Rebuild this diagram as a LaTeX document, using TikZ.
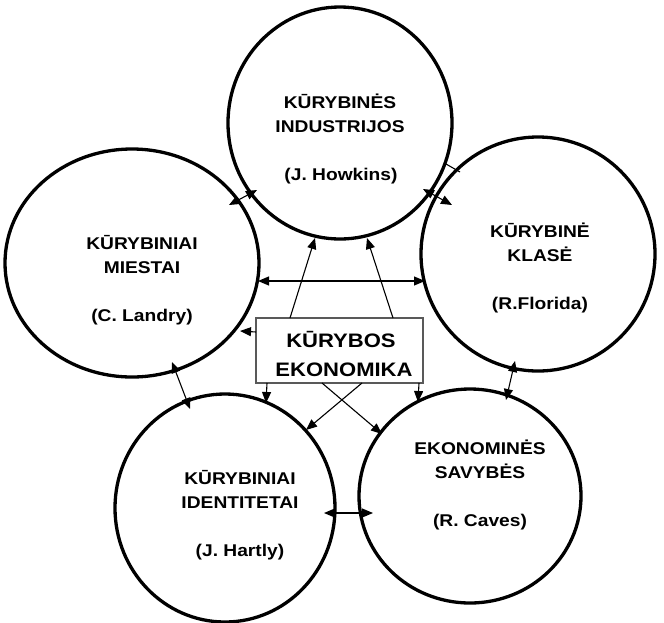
\documentclass[tikz,border=0pt]{standalone}
\usepackage{fontspec}
\setmainfont{Liberation Sans}
\newfontfamily\lbf[FakeStretch=1.13]{Liberation Sans Bold}
\usetikzlibrary{arrows.meta,shapes.geometric}
\begin{document}
\begin{tikzpicture}[x=1pt,y=-1pt,
  ring/.style={draw,ellipse,line width=3.3pt,inner sep=0pt},
  lbl/.style={font=\lbf\fontsize{17}{24}\selectfont,anchor=base,inner sep=0pt},
  blbl/.style={font=\lbf\fontsize{19.5}{28}\selectfont,anchor=base,inner sep=0pt},
  tip/.style={line width=1.1pt,-{Triangle[length=11pt,width=9pt]}},
  tips/.style={line width=1.1pt,{Triangle[length=11pt,width=9pt]}-{Triangle[length=11pt,width=9pt]}}]
\useasboundingbox (0,0) rectangle (664,622);
\fill[white] (0,0) rectangle (664,622);
% circles
\node[ring,minimum width=224pt,minimum height=232pt] (ind) at (340,123) {};
\node[ring,minimum width=254pt,minimum height=228pt] (mie) at (132,263) {};
\node[ring,minimum width=234pt,minimum height=234pt] (kla) at (538,254) {};
\node[ring,minimum width=220pt,minimum height=228pt] (ide) at (225,508) {};
\node[ring,minimum width=222pt,minimum height=214pt] (sav) at (470,496) {};
% texts
\node[lbl] (t1a) at (340,108) {KŪRYBINĖS};
\node[lbl] (t1b) at (340,132) {INDUSTRIJOS};
\node[lbl] (t1c) at (341,180) {(J. Howkins)};
\node[lbl] (t2a) at (142,249) {KŪRYBINIAI};
\node[lbl] (t2b) at (142,273) {MIESTAI};
\node[lbl] (t2c) at (142,321) {(C. Landry)};
\node[lbl] (t3a) at (540,237) {KŪRYBINĖ};
\node[lbl] (t3b) at (540,261) {KLASĖ};
\node[lbl] (t3c) at (540,309) {(R.Florida)};
\node[lbl] (t4a) at (240,484) {KŪRYBINIAI};
\node[lbl] (t4b) at (240,508) {IDENTITETAI};
\node[lbl] (t4c) at (240,556) {(J. Hartly)};
\node[lbl] (t5a) at (480,454) {EKONOMINĖS};
\node[lbl] (t5b) at (480,478) {SAVYBĖS};
\node[lbl] (t5c) at (480,526) {(R. Caves)};
% centre box
\node[draw=black!65,line width=1.3pt,fill=white,minimum width=167pt,minimum height=65pt,inner sep=0pt] (box) at (339.5,350.5) {};
\node[blbl] (b1) at (341,347) {KŪRYBOS};
\node[blbl] (b2) at (344,376) {EKONOMIKA};
% connector end points
\coordinate (p1) at (290,318); \coordinate (q1) at (315,238);
\coordinate (p2) at (393,318); \coordinate (q2) at (367,238);
\coordinate (p3) at (258,281); \coordinate (q3) at (425,281);
\coordinate (p4) at (256,332); \coordinate (q4) at (240,331);
\coordinate (p5) at (267,383); \coordinate (q5) at (266,403);
\coordinate (p6) at (419,383); \coordinate (q6) at (418,402);
\coordinate (p7) at (322,383); \coordinate (q7) at (382,434);
\coordinate (p8) at (362,383); \coordinate (q8) at (306,430);
\coordinate (p9) at (229,205); \coordinate (q9) at (257,190);
\coordinate (p10) at (423,189); \coordinate (q10) at (452,205);
\coordinate (p11) at (446,164); \coordinate (q11) at (460,172);
\coordinate (p12) at (172,362); \coordinate (q12) at (190,409);
\coordinate (p13) at (515,361); \coordinate (q13) at (506,400);
\coordinate (p14) at (324,513); \coordinate (q14) at (373,513);
% connectors
\draw[tip] (p1) -- (q1);
\draw[tip] (p2) -- (q2);
\draw[tips] (p3) -- (q3);
\draw[tip] (p4) -- (q4);
\draw[tip] (p5) -- (q5);
\draw[tip] (p6) -- (q6);
\draw[tip] (p7) -- (q7);
\draw[tip] (p8) -- (q8);
\draw[tips] (p9) -- (q9);
\draw[tips] (p10) -- (q10);
\draw[line width=1.1pt] (p11) -- (q11);
\draw[tips] (p12) -- (q12);
\draw[tips] (p13) -- (q13);
\draw[tips] (p14) -- (q14);
\end{tikzpicture}
\end{document}
